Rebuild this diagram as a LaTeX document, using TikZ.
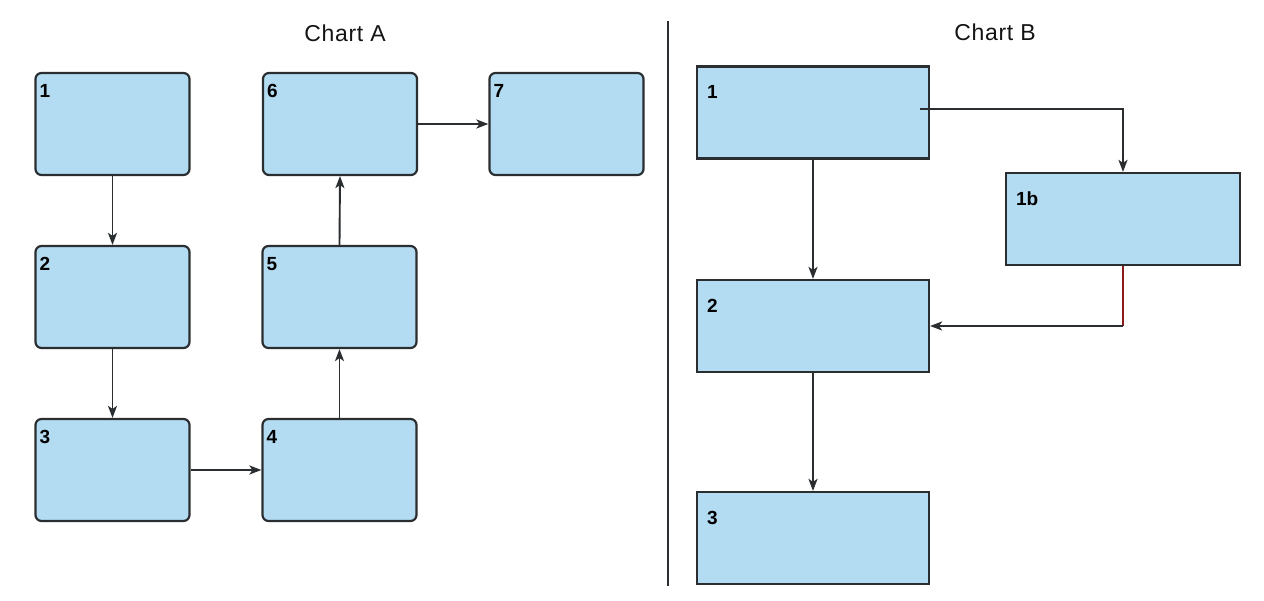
\documentclass[tikz,border=0pt]{standalone}
\usepackage{fontspec}
\setmainfont{Liberation Sans}
\newfontfamily\titlefont[LetterSpace=3]{Liberation Sans}
\usetikzlibrary{arrows.meta}
\definecolor{lineC}{HTML}{2A2E31}
\definecolor{fillC}{HTML}{B3DBF2}
\definecolor{redC}{HTML}{8B1A1A}
\tikzset{
  boxbase/.style={draw=lineC, line width=2.2pt, fill=fillC, inner sep=0pt},
  boxA/.style={boxbase, rounded corners=6pt, minimum width=154pt, minimum height=102pt},
  boxB/.style={boxbase, minimum width=232pt, minimum height=92pt},
  numA/.style={anchor=north west, inner sep=0pt, xshift=5pt, yshift=-12pt, font=\fontsize{19}{21}\selectfont\bfseries, text=black},
  numB/.style={anchor=north west, inner sep=0pt, xshift=11pt, yshift=-20pt, font=\fontsize{19}{21}\selectfont\bfseries, text=black},
  arr/.style={draw=lineC, line width=1.9pt, -{Stealth[length=12pt,width=9pt,inset=3pt]}},
  plainline/.style={draw=lineC, line width=1.9pt},
  redline/.style={draw=redC, line width=1.9pt},
  title/.style={anchor=base, inner sep=0pt, font=\fontsize{23}{27}\titlefont, text=black!92}
}
\begin{document}
\begin{tikzpicture}[x=1pt,y=-1pt]
\useasboundingbox (0,0) rectangle (1264,601);
\fill[white] (0,0) rectangle (1264,601);
% titles
\node[title] (tA) at (345,41.7) {Chart A};
\node[title] (tB) at (995,40.7) {Chart B};
% divider
\coordinate (dtop) at (668,21);
\coordinate (dbot) at (668,586);
\draw[plainline, line width=2.2pt] (dtop) -- (dbot);
% Chart A
\node[boxA, label={[numA]north west:1}] (a1) at (112.5,124) {};
\node[boxA, label={[numA]north west:2}] (a2) at (112.5,297) {};
\node[boxA, label={[numA]north west:3}] (a3) at (112.5,470) {};
\node[boxA, label={[numA]north west:4}] (a4) at (339.5,470) {};
\node[boxA, label={[numA]north west:5}] (a5) at (339.5,297) {};
\node[boxA, label={[numA]north west:6}] (a6) at (340,124) {};
\node[boxA, label={[numA]north west:7}] (a7) at (566.5,124) {};
\draw[arr] (a1.south) -- (a2.north);
\draw[arr] (a2.south) -- (a3.north);
\draw[arr] (a3.east) -- (a4.west);
\draw[arr] (a4.north) -- (a5.south);
\draw[arr] (a5.north) -- (a6.south);
\draw[arr] (a6.east) -- (a7.west);
% Chart B
\node[boxB, label={[numB]north west:1}] (b1) at (813,112.5) {};
\node[boxB, minimum width=234pt, label={[numB]north west:1b}] (b1b) at (1123,219) {};
\node[boxB, label={[numB]north west:2}] (b2) at (813,326) {};
\node[boxB, label={[numB]north west:3}] (b3) at (813,538) {};
\coordinate (b1out) at (920,109);
\coordinate (bend) at (b1b.south |- b2.east);
\draw[arr] (b1out) -| (b1b.north);
\draw[arr] (b1.south) -- (b2.north);
\draw[arr] (b2.south) -- (b3.north);
\draw[redline] (b1b.south) -- (bend);
\draw[arr] (bend) -- (b2.east);
\end{tikzpicture}
\end{document}
